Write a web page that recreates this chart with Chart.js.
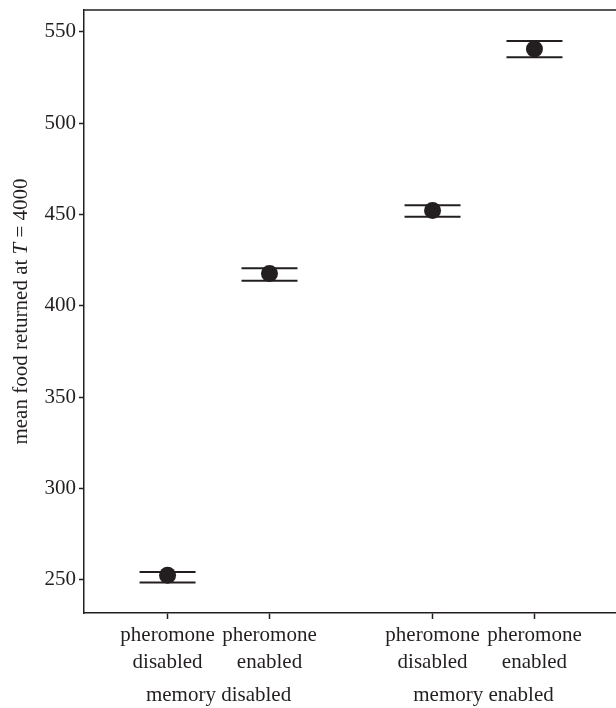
<!DOCTYPE html>
<html>
<head>
<meta charset="utf-8">
<script src="https://cdn.jsdelivr.net/npm/chart.js@4"></script>
<style>
  html, body { margin: 0; padding: 0; background: #fff; }
  #wrap { width: 616px; height: 708px; }
</style>
</head>
<body>
<div id="wrap"><canvas id="c"></canvas></div>
<script>
// data
const xPos      = [1, 2, 3.6, 4.6];
const tickLines = [['pheromone', 'disabled'], ['pheromone', 'enabled'], ['pheromone', 'disabled'], ['pheromone', 'enabled']];
const means     = [252.5, 417.7, 452.2, 540.5];
const upper     = [254.3, 420.6, 455.0, 545.0];
const lower     = [248.6, 413.7, 448.8, 536.0];
const groups    = ['memory disabled', 'memory enabled'];
const yTicks    = [250, 300, 350, 400, 450, 500, 550];

const ink = '#231f20';
const FONT = '"Liberation Serif", "Times New Roman", serif';
const FS = 21;
const pts = arr => arr.map((v, i) => ({ x: xPos[i], y: v }));

// top frame line, group labels under the tick labels, y title with italic T
const extras = {
  id: 'extras',
  afterDraw(chart) {
    const { ctx, chartArea: a, scales } = chart;
    ctx.save();
    ctx.strokeStyle = ink;
    ctx.lineWidth = 1.5;
    ctx.beginPath();
    ctx.moveTo(a.left, a.top);
    ctx.lineTo(a.right, a.top);
    ctx.stroke();

    ctx.fillStyle = ink;
    ctx.font = FS + 'px ' + FONT;
    ctx.textAlign = 'center';
    ctx.textBaseline = 'middle';
    groups.forEach((g, i) => {
      const cx = (scales.x.getPixelForValue(xPos[i * 2]) + scales.x.getPixelForValue(xPos[i * 2 + 1])) / 2;
      ctx.fillText(g, cx, 695);
    });

    const parts = [['mean food returned at ', ''], ['T', 'italic '], [' = 4000', '']];
    let total = 0;
    parts.forEach(p => { ctx.font = p[1] + FS + 'px ' + FONT; total += ctx.measureText(p[0]).width; });
    ctx.translate(21, (a.top + a.bottom) / 2);
    ctx.rotate(-Math.PI / 2);
    ctx.textAlign = 'left';
    let x = -total / 2;
    parts.forEach(p => {
      ctx.font = p[1] + FS + 'px ' + FONT;
      ctx.fillText(p[0], x, 0);
      x += ctx.measureText(p[0]).width;
    });
    ctx.restore();
  }
};

new Chart(document.getElementById('c'), {
  type: 'scatter',
  data: {
    datasets: [
      { data: pts(upper), pointStyle: 'line', pointRadius: 28, pointHoverRadius: 28, borderColor: ink, borderWidth: 2 },
      { data: pts(lower), pointStyle: 'line', pointRadius: 28, pointHoverRadius: 28, borderColor: ink, borderWidth: 2 },
      { data: pts(means), pointStyle: 'circle', pointRadius: 8.5, pointHoverRadius: 8.5, backgroundColor: ink, borderColor: ink, borderWidth: 0 }
    ]
  },
  options: {
    responsive: true,
    maintainAspectRatio: false,
    animation: false,
    layout: { autoPadding: false, padding: { top: 10, left: 0, right: 0, bottom: 0 } },
    plugins: { legend: { display: false }, tooltip: { enabled: false } },
    scales: {
      x: {
        type: 'linear',
        min: 0.18,
        max: 5.4,
        afterBuildTicks: s => { s.ticks = xPos.map(v => ({ value: v })); },
        afterFit: s => { s.height = 95; s.paddingLeft = 0; s.paddingRight = 0; },
        ticks: {
          color: ink,
          font: { family: FONT, size: FS, lineHeight: 1.28 },
          padding: 3,
          maxRotation: 0,
          autoSkip: false,
          callback: (v) => tickLines[xPos.indexOf(v)]
        },
        grid: { display: true, drawOnChartArea: false, drawTicks: true, tickLength: 6, tickColor: ink, tickWidth: 1.5 },
        border: { display: true, color: ink, width: 1.5 }
      },
      y: {
        min: 231.9,
        max: 561.9,
        afterBuildTicks: s => { s.ticks = yTicks.map(v => ({ value: v })); },
        afterFit: s => { s.width = 84; s.paddingTop = 0; s.paddingBottom = 0; },
        ticks: {
          color: ink,
          font: { family: FONT, size: FS },
          padding: 3
        },
        grid: { display: true, drawOnChartArea: false, drawTicks: true, tickLength: 5, tickColor: ink, tickWidth: 1.5 },
        border: { display: true, color: ink, width: 1.5 }
      }
    }
  },
  plugins: [extras]
});
</script>
</body>
</html>
